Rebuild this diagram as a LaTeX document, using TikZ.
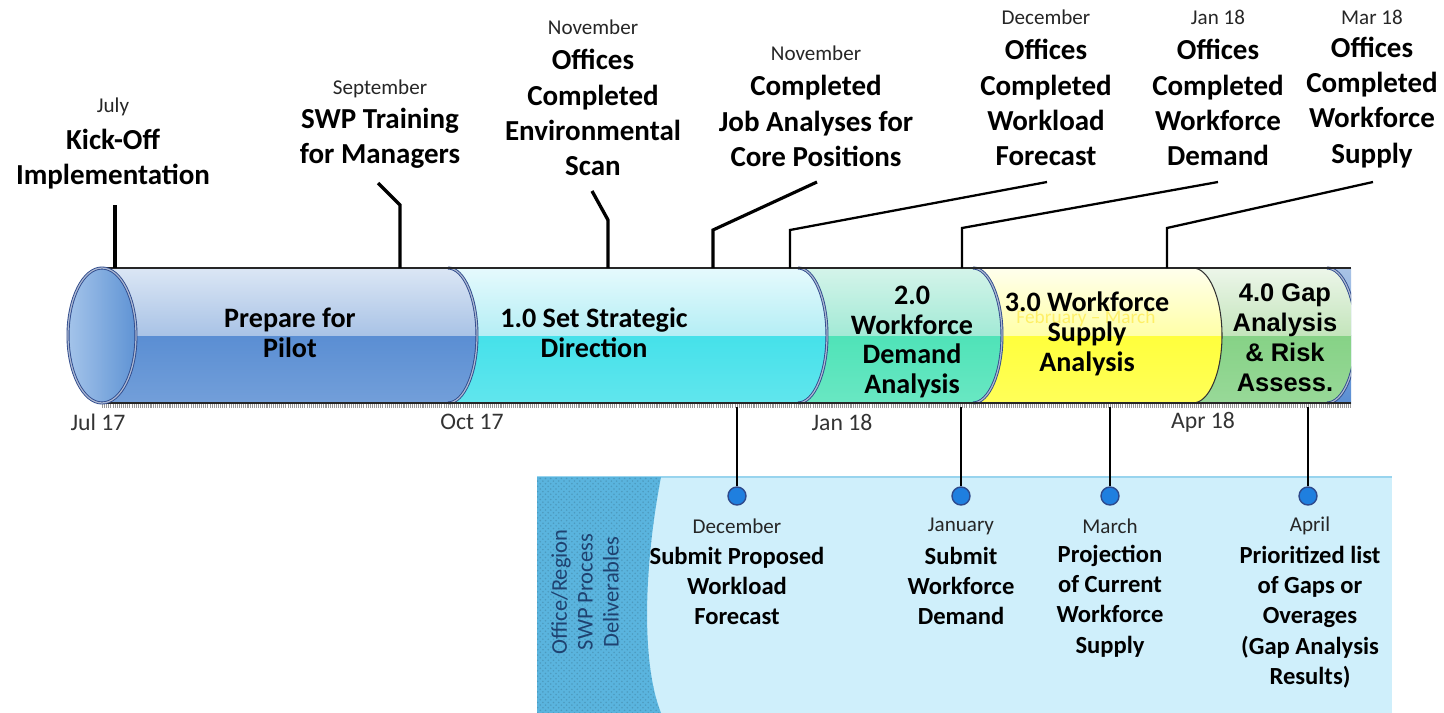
\documentclass[tikz,border=0pt]{standalone}
\usepackage{fontspec}
\setmainfont{Carlito}
\newfontfamily\gapfont{Liberation Sans}
\usetikzlibrary{positioning,patterns}
\definecolor{rim}{HTML}{2E4A8C}
\definecolor{panel}{HTML}{CFEFFB}
\definecolor{panelline}{HTML}{98D4EE}
\definecolor{band}{HTML}{5AB4DE}
\definecolor{sidetext}{HTML}{1F4270}
\definecolor{dotblue}{HTML}{1F7FDF}
\definecolor{pilotA}{HTML}{DCE7F5}
\definecolor{pilotB}{HTML}{A9C3E6}
\definecolor{pilotC}{HTML}{5A8ED3}
\definecolor{stratA}{HTML}{E6FAFD}
\definecolor{stratB}{HTML}{B5EEF5}
\definecolor{stratC}{HTML}{45E1EA}
\definecolor{demA}{HTML}{D5F4EA}
\definecolor{demB}{HTML}{A3EAD6}
\definecolor{demC}{HTML}{4FE3B8}
\definecolor{supA}{HTML}{FFFFEE}
\definecolor{supB}{HTML}{FFFFA8}
\definecolor{supC}{HTML}{FFFF3C}
\definecolor{gapA}{HTML}{EDF6EA}
\definecolor{gapB}{HTML}{C4E5BC}
\definecolor{gapC}{HTML}{86D286}
\definecolor{capL}{HTML}{A4C4EA}
\definecolor{capR}{HTML}{5F93D4}

% one piece of the tube: left x, right x, upper colours, lower colour
\newcommand{\tubepiece}[5]{%
  \begin{scope}
    \clip (#1,268) -- (#2,268) arc[start angle=90,end angle=-90,x radius=0.58cm,y radius=1.35cm] -- (#1,403) -- cycle;
    \shade[top color=#5, bottom color=#5!85!white] (#1,335) rectangle (#2+40,404);
    \shade[top color=#3, bottom color=#4] (#1,267) rectangle (#2+40,335);
  \end{scope}}

\begin{document}
\begin{tikzpicture}[x=0.02cm,y=-0.02cm,
  mile/.style={font=\fontsize{16.5}{20}\selectfont\bfseries,align=center},
  mon/.style={font=\fontsize{12}{14}\selectfont,text=black!85},
  phase/.style={font=\fontsize{16}{17}\selectfont\bfseries,align=center},
  deliv/.style={font=\fontsize{14}{17.3}\selectfont\bfseries,align=center},
  datelbl/.style={font=\fontsize{13.5}{16}\selectfont,text=black!80},
  marker/.style={circle,draw=rim,line width=0.8pt,fill=dotblue,minimum size=0.36cm,inner sep=0pt},
  rimline/.style={draw=rim,line width=0.5pt,double=rim!40!white,double distance=0.7pt}]
\useasboundingbox (0,0) rectangle (1444,713);
\fill[white] (0,0) rectangle (1444,713);

% deliverables panel
\fill[panel] (537,477) rectangle (1392,713);
\draw[panelline,line width=0.6pt] (537,477) -- (1392,477);
\fill[band] (537,477) -- (661,477) .. controls (645,560) and (640,660) .. (661,713) -- (537,713) -- cycle;
\fill[pattern=crosshatch dots,pattern color=band!60!black,opacity=0.35] (537,477) -- (661,477) .. controls (645,560) and (640,660) .. (661,713) -- (537,713) -- cycle;
\node[rotate=90,align=center,text=sidetext,font=\fontsize{12.8}{14.7}\selectfont] (side) at (585,592) {Office/Region\\SWP Process\\Deliverables};

% the tube, right to left so each cap lies over its neighbour
\begin{scope}
  \clip (60,260) rectangle (1351,410);
  \shade[top color=pilotB, bottom color=pilotC] (1300,268) rectangle (1351,403);
  \tubepiece{1193}{1327}{gapA}{gapB}{gapC}
  \tubepiece{973}{1193}{supA}{supB}{supC}
  \tubepiece{798}{973}{demA}{demB}{demC}
  \tubepiece{448}{798}{stratA}{stratB}{stratC}
  \tubepiece{102}{448}{pilotA}{pilotB}{pilotC}
  \foreach \x in {448,798,973,1327}
    \draw[rimline] (\x,268) arc[start angle=90,end angle=-90,x radius=0.58cm,y radius=1.35cm];
  \draw[black!80,line width=0.6pt] (1193,268) arc[start angle=90,end angle=-90,x radius=0.58cm,y radius=1.35cm];
\end{scope}
\draw[black!85,line width=0.7pt] (102,268) -- (1351,268);
\draw[black!85,line width=0.7pt] (102,403) -- (1351,403);
\draw[black!40,line width=2.4pt,dash pattern=on 0.6pt off 0.6pt] (102,406) -- (1351,406);
\shade[left color=capL, right color=capR] (102,335.5) ellipse[x radius=0.68cm,y radius=1.35cm];
\draw[rimline] (102,335.5) ellipse[x radius=0.68cm,y radius=1.35cm];

\coordinate (tubetop) at (0,268);
\coordinate (tubebot) at (0,407);

% faint month text left in the tube
\node[font=\fontsize{11}{13}\selectfont,text=yellow!80!orange,opacity=0.45] (ghost) at (1086,318) {February – March};

% phases
\node[phase] (p0) at (290,333) {Prepare for\\Pilot};
\node[phase] (p1) at (594,333) {1.0 Set Strategic\\Direction};
\node[phase] (p2) at (912,342) {2.0\\Workforce\\Demand\\Analysis};
\node[phase] (p3) at (1087,333.5) {3.0 Workforce\\Supply\\Analysis};
\node[phase,font=\gapfont\fontsize{14.5}{17}\selectfont\bfseries] (p4) at (1285,338) {4.0 Gap\\Analysis\\\& Risk\\Assess.};

% quarter marks
\node[datelbl] (jul) at (98,422) {Jul 17};
\node[datelbl] (oct) at (472,422) {Oct 17};
\node[datelbl] (jan18) at (842,422) {Jan 18};
\node[datelbl] (apr18) at (1203,422) {Apr 18};

% milestones above the tube
\node[mon] (kick-m) at (113,107) {July};
\node[mile] (kick) at (113,159) {Kick-Off\\Implementation};
\node[mon] (swp-m) at (380,89) {September};
\node[mile] (swp) at (380,138.5) {SWP Training\\for Managers};
\node[mon] (env-m) at (593,27) {November};
\node[mile] (env) at (593,112.5) {Offices\\Completed\\Environmental\\Scan};
\node[mon] (job-m) at (816,53) {November};
\node[mile] (job) at (816,121) {Completed\\Job Analyses for\\Core Positions};
\node[mon] (wlf-m) at (1046,17) {December};
\node[mile] (wlf) at (1046,102.5) {Offices\\Completed\\Workload\\Forecast};
\node[mon] (wfd-m) at (1218,17) {Jan 18};
\node[mile] (wfd) at (1218,102.5) {Offices\\Completed\\Workforce\\Demand};
\node[mon] (wfs-m) at (1372,17) {Mar 18};
\node[mile] (wfs) at (1372,102.5) {Offices\\Completed\\Workforce\\Supply};

% leader lines down to the tube
\foreach \xa/\ya/\xb/\yb/\w in {115/205/115/205/1.9, 378/183/400/205/1.9, 592/191/608/220/1.9,
    817/182/713/230/1.8, 1047/182/790/230/1.3, 1218/182/962/228/1.3, 1373/182/1167/228/1.3}
{
  \coordinate (ca) at (\xa,\ya);
  \coordinate (cb) at (\xb,\yb);
  \draw[line width=\w pt] (ca) -- (cb) -- (cb |- tubetop);
}

% deliverables below the tube
\foreach \x/\n in {737/d1,961/d2,1110/d3,1308/d4}
{
  \node[marker] (\n) at (\x,496) {};
  \draw[line width=1.3pt] (\n |- tubebot) -- (\n.north);
}
\node[mon] (dec-m) at (737,526) {December};
\node[deliv] (dec) at (737,586) {Submit Proposed\\Workload\\Forecast};
\node[mon] (jan-m) at (961,526) {January};
\node[deliv] (jan) at (961,586) {Submit\\Workforce\\Demand};
\node[mon] (mar-m) at (1110,526) {March};
\node[deliv] (mar) at (1110,601) {Projection\\of Current\\Workforce\\Supply};
\node[mon] (apr-m) at (1310,526) {April};
\node[deliv] (apr) at (1310,617) {Prioritized list\\of Gaps or\\Overages\\(Gap Analysis\\Results)};
\end{tikzpicture}
\end{document}
